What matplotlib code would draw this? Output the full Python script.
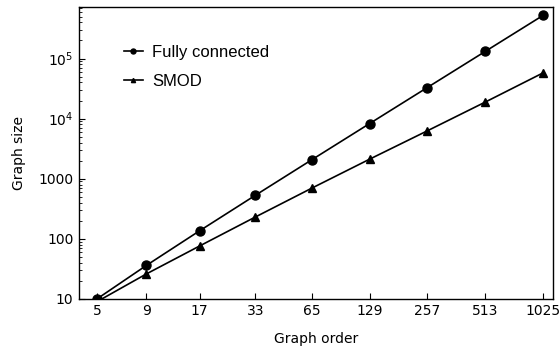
import matplotlib
matplotlib.use("Agg")
import matplotlib.pyplot as plt
from matplotlib.ticker import FixedLocator, NullLocator, LogLocator

orders = [5, 9, 17, 33, 65, 129, 257, 513, 1025]
order_labels = ["5", "9", "17", "33", "65", "129", "257", "513", "1025"]
fully_connected = [10, 36, 136, 528, 2080, 8256, 32896, 131328, 524800]
smod = [9, 26, 76, 230, 700, 2110, 6260, 18840, 57900]
y_ticks = [10, 100, 1000, 1e4, 1e5]
y_tick_labels = ["10", "100", "1000", r"$10^4$", r"$10^5$"]

plt.rcParams['font.family'] = ['DejaVu Sans']
plt.rcParams['mathtext.fontset'] = 'dejavusans'

fig = plt.figure(figsize=(5.6, 3.5), dpi=100)
ax = fig.add_axes([0.141, 0.146, 0.847, 0.834])

ax.plot(orders, fully_connected, color='black', marker='o', markersize=6.5,
        linewidth=1.2, label='Fully connected')
ax.plot(orders, smod, color='black', marker='^', markersize=5.5,
        linewidth=1.2, label='SMOD')

ax.set_xscale('log')
ax.set_yscale('log')
ax.set_xlim(4.03, 1155)
ax.set_ylim(10, 7.2e5)

ax.xaxis.set_major_locator(FixedLocator(orders))
ax.xaxis.set_minor_locator(NullLocator())
ax.set_xticks(orders)
ax.set_xticklabels(order_labels)
ax.set_yticks(y_ticks)
ax.set_yticklabels(y_tick_labels)
ax.yaxis.set_minor_locator(LogLocator(base=10, subs=range(2, 10), numticks=20))

ax.tick_params(axis='both', which='major', direction='in', length=4, width=0.8,
               labelsize=10, top=False, right=False, pad=4)
ax.tick_params(axis='y', which='minor', direction='in', length=2, width=0.6,
               right=False)
ax.tick_params(axis='x', which='minor', bottom=False, top=False)

for s in ax.spines.values():
    s.set_linewidth(1.0)
    s.set_color('black')

ax.set_xlabel('Graph order', fontsize=10, labelpad=9.5)
ax.set_ylabel('Graph size', fontsize=10, labelpad=8.5)

leg = ax.legend(loc='upper left', bbox_to_anchor=(0.064, 0.922), frameon=False,
                prop={'family': 'Liberation Sans', 'size': 12},
                markerscale=0.55, handlelength=1.1, handletextpad=0.55,
                labelspacing=0.87)

fig.savefig('out.png', dpi=100)
